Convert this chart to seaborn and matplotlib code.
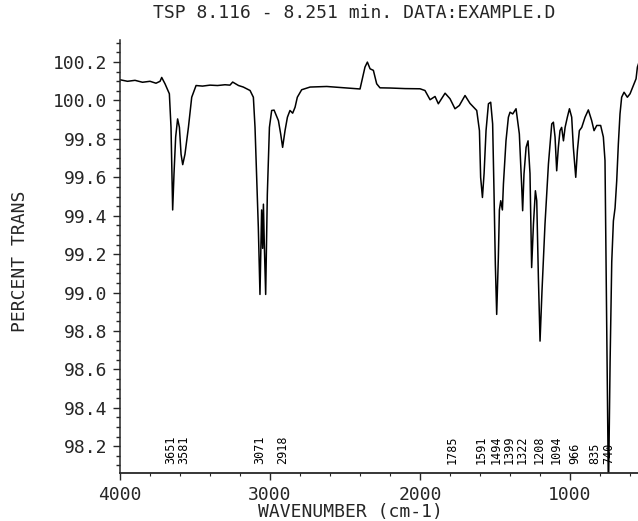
import numpy as np
import pandas as pd
import seaborn as sns
import matplotlib.pyplot as plt
from matplotlib.ticker import MultipleLocator, FormatStrFormatter

# spectrum (wavenumber, percent transmittance)
wavenumber = [
    4000, 3950, 3900, 3850, 3800, 3760, 3733, 3722, 3700, 3671,
    3660, 3653, 3649, 3640, 3629, 3616, 3604, 3593, 3582, 3567,
    3544, 3522, 3493, 3450, 3400, 3350, 3300, 3267, 3249, 3210,
    3178, 3133, 3111, 3100, 3089, 3078, 3067, 3056, 3049, 3044,
    3038, 3029, 3018, 3004, 2989, 2973, 2944, 2929, 2916, 2900,
    2884, 2867, 2849, 2833, 2818, 2789, 2733, 2622, 2500, 2400,
    2367, 2351, 2333, 2311, 2289, 2267, 2200, 2100, 2000, 1967,
    1933, 1900, 1878, 1833, 1800, 1767, 1738, 1700, 1667, 1622,
    1604, 1596, 1584, 1573, 1560, 1544, 1529, 1516, 1507, 1498,
    1489, 1478, 1471, 1462, 1451, 1444, 1427, 1411, 1400, 1382,
    1360, 1338, 1322, 1316, 1307, 1293, 1280, 1267, 1256, 1244,
    1231, 1222, 1211, 1200, 1187, 1167, 1144, 1122, 1111, 1100,
    1089, 1078, 1067, 1056, 1044, 1033, 1018, 1004, 989, 978,
    962, 951, 938, 922, 900, 878, 856, 840, 822, 796,
    778, 767, 760, 751, 744, 733, 722, 711, 700, 689,
    678, 667, 656, 640, 618, 600, 578, 560, 551, 540,
]
transmittance = [
    100.108, 100.100, 100.105, 100.095, 100.100, 100.090, 100.100, 100.120, 100.087, 100.035,
    99.860, 99.600, 99.430, 99.620, 99.810, 99.904, 99.860, 99.720, 99.666, 99.720,
    99.860, 100.017, 100.078, 100.075, 100.080, 100.078, 100.082, 100.080, 100.096, 100.078,
    100.070, 100.052, 100.017, 99.860, 99.600, 99.340, 98.990, 99.430, 99.230, 99.460,
    99.250, 98.990, 99.510, 99.860, 99.948, 99.950, 99.895, 99.826, 99.756, 99.843,
    99.913, 99.948, 99.934, 99.965, 100.017, 100.056, 100.070, 100.073, 100.066, 100.060,
    100.174, 100.200, 100.165, 100.157, 100.087, 100.066, 100.065, 100.062, 100.061, 100.052,
    100.004, 100.021, 99.983, 100.038, 100.009, 99.957, 99.974, 100.026, 99.985, 99.948,
    99.843, 99.600, 99.495, 99.620, 99.843, 99.983, 99.991, 99.878, 99.530, 99.147,
    98.886, 99.180, 99.430, 99.478, 99.430, 99.566, 99.790, 99.913, 99.939, 99.930,
    99.957, 99.826, 99.547, 99.426, 99.617, 99.756, 99.790, 99.620, 99.130, 99.356,
    99.530, 99.478, 99.077, 98.747, 99.008, 99.356, 99.670, 99.878, 99.887, 99.810,
    99.634, 99.756, 99.843, 99.860, 99.790, 99.860, 99.913, 99.957, 99.913, 99.756,
    99.600, 99.739, 99.843, 99.860, 99.913, 99.951, 99.896, 99.843, 99.870, 99.870,
    99.810, 99.687, 99.164, 98.470, 97.950, 98.640, 99.160, 99.373, 99.440, 99.580,
    99.774, 99.930, 100.017, 100.043, 100.017, 100.035, 100.078, 100.113, 100.174, 100.200,
]
peak_labels = [3651, 3581, 3071, 2918, 1785, 1591, 1494, 1399, 1322, 1208, 1094, 966, 835, 740]

df = pd.DataFrame({"wavenumber": wavenumber, "trans": transmittance})

sns.set_style("ticks")
plt.rcParams['font.family'] = ['DejaVu Sans Mono', 'DejaVu Sans']

fig = plt.figure(figsize=(6.38, 5.21), dpi=100)
ax = fig.add_axes([0.1881, 0.0921, 0.8119, 0.8311])

sns.lineplot(data=df, x="wavenumber", y="trans", sort=False, estimator=None,
             color="black", linewidth=1.1, ax=ax)

ax.set_xlim(4000, 547)
ax.set_ylim(98.06, 100.315)

# the plotter nudges crowded labels apart a little
label_x = [float(p) for p in peak_labels]
min_gap = 86
for i in range(1, len(label_x)):
    gap = label_x[i - 1] - label_x[i]
    if gap < min_gap:
        shift = (min_gap - gap) / 2
        label_x[i - 1] += shift
        label_x[i] -= shift

for p, xpos in zip(peak_labels, label_x):
    ax.text(xpos, 98.105, str(p), rotation=90, ha="center", va="bottom",
            fontsize=8.5, color="black")

ax.xaxis.set_major_locator(MultipleLocator(1000))
ax.xaxis.set_minor_locator(MultipleLocator(200))
ax.yaxis.set_major_locator(MultipleLocator(0.2))
ax.yaxis.set_minor_locator(MultipleLocator(0.05))
ax.yaxis.set_major_formatter(FormatStrFormatter("%.1f"))
ax.xaxis.set_major_formatter(FormatStrFormatter("%d"))

ax.tick_params(axis="y", which="major", direction="out", length=5, width=1.0, pad=4, labelsize=13)
ax.tick_params(axis="y", which="minor", direction="out", length=3, width=1.0)
ax.tick_params(axis="x", which="major", direction="out", length=5, width=1.0, pad=4, labelsize=13)
ax.tick_params(axis="x", which="minor", direction="out", length=2, width=0.8)

for s in ["top", "right"]:
    ax.spines[s].set_visible(False)
ax.spines["left"].set_linewidth(1.1)
ax.spines["bottom"].set_linewidth(1.3)

ax.set_xlabel("")
ax.set_ylabel("")
fig.text(0.555, 0.975, "TSP 8.116 - 8.251 min. DATA:EXAMPLE.D", ha="center", va="center", fontsize=13)
fig.text(0.031, 0.499, "PERCENT TRANS", rotation=90, ha="center", va="center", fontsize=13)
fig.text(0.549, 0.0, "WAVENUMBER (cm-1)", ha="center", va="bottom", fontsize=13)

fig.savefig("out.png", dpi=100)
